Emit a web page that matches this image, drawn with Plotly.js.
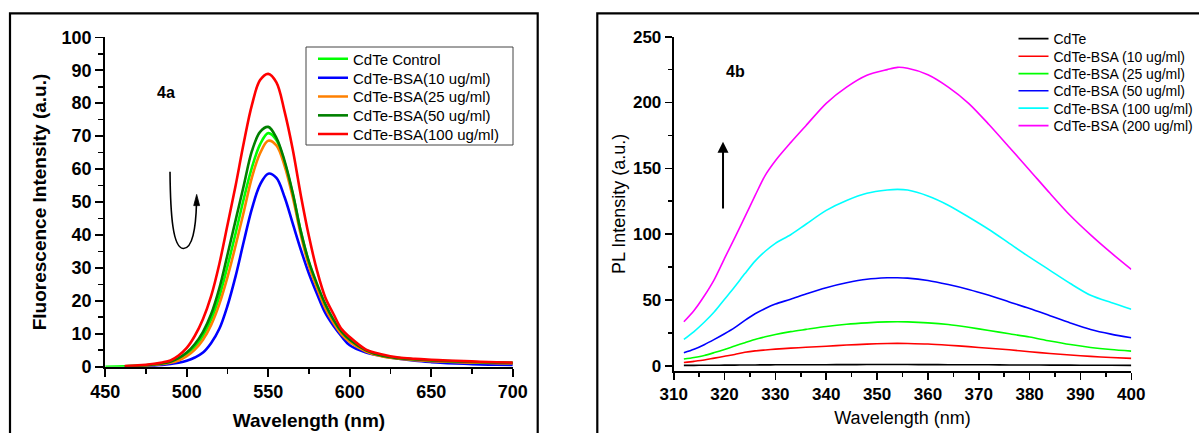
<!DOCTYPE html>
<html>
<head>
<meta charset="utf-8">
<script src="https://cdn.plot.ly/plotly-3.0.1.min.js"></script>
<style>html,body{margin:0;padding:0;background:#fff;}#chart{width:1199px;height:433px;}</style>
</head>
<body>
<div id="chart"></div>
<script>
// ---------- Panel 4a data ----------
const wavelengthA = [450, 462, 470, 475, 480, 485, 490, 495, 500, 505, 510, 515, 520, 525, 530, 535, 540, 545, 550, 555, 560, 565, 570, 575, 580, 585, 590, 595, 600, 610, 620, 630, 640, 650, 660, 670, 680, 690, 700];
const cdteControl = [0, 0.1, 0.25, 0.4, 0.6, 0.9, 1.3, 2.2, 3.7, 6.0, 9.4, 14.3, 21.3, 30.5, 40.5, 51, 60.5, 67.5, 70.9, 68.8, 62, 52.5, 41, 31.5, 24.5, 18.5, 13.8, 10.2, 7.8, 4.8, 3.3, 2.6, 2.1, 1.8, 1.6, 1.4, 1.3, 1.2, 1.1];
const bsa10A = [null, 0.05, 0.1, 0.2, 0.3, 0.5, 0.8, 1.2, 1.8, 2.8, 4.3, 7.2, 11.5, 18.5, 27.5, 38, 48, 55.3, 58.6, 57.3, 51.5, 43.5, 35.5, 28.2, 22, 16.3, 12.4, 9.2, 6.5, 4.3, 3.2, 2.4, 1.8, 1.4, 1.1, 0.9, 0.7, 0.6, 0.5];
const bsa25A = [null, 0.1, 0.2, 0.3, 0.5, 0.8, 1.2, 1.9, 3.2, 5.2, 8.2, 12.7, 19, 27.2, 36.8, 47, 57.5, 64.8, 68.6, 67.2, 61, 51.5, 40, 30.5, 23.8, 17.8, 13.3, 9.8, 7.5, 4.6, 3.1, 2.4, 2.0, 1.7, 1.5, 1.3, 1.2, 1.1, 1.0];
const bsa50A = [null, 0.15, 0.3, 0.45, 0.7, 1.0, 1.5, 2.6, 4.3, 6.9, 10.6, 16, 23.8, 34, 44.5, 55, 65.5, 71.3, 72.8, 69.5, 62.5, 52.8, 41, 31.8, 25, 19, 14.3, 10.6, 8.2, 5.0, 3.3, 2.6, 2.2, 1.9, 1.7, 1.5, 1.35, 1.25, 1.15];
const bsa100A = [null, 0.2, 0.4, 0.6, 0.9, 1.3, 1.9, 3.4, 5.7, 9.4, 14.5, 21.5, 31.2, 43, 55, 68, 79.5, 87, 88.9, 86.3, 77.5, 66, 52, 39.5, 29, 21, 16, 11.4, 9.0, 5.2, 3.7, 2.8, 2.4, 2.1, 1.9, 1.7, 1.5, 1.35, 1.25];
const namesA = ['CdTe Control', 'CdTe-BSA(10 ug/ml)', 'CdTe-BSA(25 ug/ml)', 'CdTe-BSA(50 ug/ml)', 'CdTe-BSA(100 ug/ml)'];

// ---------- Panel 4b data ----------
const wavelengthB = [312, 314, 316, 318, 320, 322, 324, 326, 328, 330, 333, 336, 340, 344, 348, 352, 354, 356, 360, 364, 368, 372, 376, 380, 384, 388, 392, 396, 400];
const cdteB = [0.3, 0.3, 0.35, 0.4, 0.45, 0.5, 0.55, 0.6, 0.65, 0.7, 0.7, 0.75, 0.8, 0.85, 0.9, 0.9, 0.9, 0.9, 0.85, 0.8, 0.75, 0.7, 0.6, 0.55, 0.5, 0.45, 0.4, 0.35, 0.3];
const bsa10B = [2.5, 3.3, 4.3, 5.8, 7.2, 8.6, 10.2, 11.3, 12, 12.6, 13.4, 14, 14.8, 15.7, 16.4, 16.9, 17, 16.9, 16.5, 15.6, 14.5, 13.3, 12.1, 10.6, 9.3, 8.1, 7.1, 6.3, 5.6];
const bsa25B = [5.1, 6.3, 7.8, 10, 12.4, 15, 17.5, 20, 22, 23.8, 25.9, 27.6, 29.8, 31.5, 32.6, 33.3, 33.4, 33.3, 32.6, 31.3, 29.2, 26.8, 24.3, 21.8, 18.8, 16.1, 13.9, 12.3, 11.1];
const bsa50B = [9.9, 12.5, 16, 20, 24.3, 29, 34.5, 39.5, 43.5, 46.9, 50.5, 54.5, 59.3, 63, 65.7, 66.8, 66.9, 66.6, 64.8, 61.7, 58, 53.5, 48.5, 43.5, 38, 32.5, 27.5, 24, 21.3];
const bsa100B = [20, 26, 33, 41, 50.5, 60, 70, 79.5, 87, 93, 99.5, 107.5, 118, 125.5, 131, 133.5, 134, 133.5, 129, 122, 113, 103.5, 93, 82.5, 72.5, 62.5, 53.5, 48, 43];
const bsa200B = [33.4, 42, 53, 65.7, 81.6, 97.1, 113.1, 129.2, 144.7, 155.8, 169.5, 182.4, 199.4, 211.7, 220.7, 225, 226.7, 226, 221.1, 211.7, 199.4, 183.3, 166, 148.6, 131, 114.1, 99.4, 85.9, 73.2];
const namesB = ['CdTe', 'CdTe-BSA (10 ug/ml)', 'CdTe-BSA (25 ug/ml)', 'CdTe-BSA (50 ug/ml)', 'CdTe-BSA (100 ug/ml)', 'CdTe-BSA (200 ug/ml)'];

// ---------- Styling ----------
const FONT = 'Liberation Sans, Arial, Helvetica, sans-serif';
const colorsA = ['#00ff00', '#0000ff', '#ff8000', '#008000', '#ff0000'];
const colorsB = ['#000000', '#ff0000', '#00ff00', '#0000ff', '#00ffff', '#ff00ff'];
const W = 1199, H = 433;
const px = v => v / W, py = v => 1 - v / H;

const seriesA = [cdteControl, bsa10A, bsa25A, bsa50A, bsa100A];
const seriesB = [cdteB, bsa10B, bsa25B, bsa50B, bsa100B, bsa200B];

// legend row centres (pixels) for each panel
const legendRowsA = [59, 78, 96.7, 115.6, 134.3];
const legendRowsB = [39, 56.6, 74, 91.2, 108.5, 126];

const traces = [];
const layoutLegends = {};
let legendCount = 0;
function nextLegendKey() {
  legendCount += 1;
  return legendCount === 1 ? 'legend' : 'legend' + legendCount;
}
seriesA.forEach((ys, i) => {
  const key = nextLegendKey();
  layoutLegends[key] = {
    x: px(313), xanchor: 'left', y: py(legendRowsA[i]), yanchor: 'middle',
    bgcolor: 'rgba(0,0,0,0)', borderwidth: 0,
    font: {family: FONT, size: 15, color: '#000'}
  };
  traces.push({
    type: 'scatter', mode: 'lines', x: wavelengthA, y: ys, name: namesA[i],
    xaxis: 'x', yaxis: 'y', legend: key, connectgaps: false,
    line: {color: colorsA[i], width: 2.6, shape: 'spline', smoothing: 1}
  });
});
seriesB.forEach((ys, i) => {
  const key = nextLegendKey();
  layoutLegends[key] = {
    x: px(1013.5), xanchor: 'left', y: py(legendRowsB[i]), yanchor: 'middle',
    bgcolor: 'rgba(0,0,0,0)', borderwidth: 0,
    font: {family: FONT, size: 14, color: '#000'}
  };
  traces.push({
    type: 'scatter', mode: 'lines', x: wavelengthB, y: ys, name: namesB[i],
    xaxis: 'x2', yaxis: 'y2', legend: key,
    line: {color: colorsB[i], width: 1.6, shape: 'spline', smoothing: 0.8}
  });
});

const axisCommon = {
  showgrid: false, zeroline: false, showline: true, linecolor: '#000', mirror: false,
  ticks: 'outside', tickcolor: '#000', fixedrange: true
};

const layout = Object.assign({
  width: W, height: H,
  margin: {l: 0, r: 0, t: 0, b: 0},
  paper_bgcolor: '#fff', plot_bgcolor: 'rgba(0,0,0,0)',
  font: {family: FONT, color: '#000'},
  xaxis: Object.assign({}, axisCommon, {
    domain: [px(105.2), px(512.8)], range: [450, 700], anchor: 'y',
    linewidth: 2, ticklen: 8, tickwidth: 1.6, tick0: 450, dtick: 50,
    minor: {ticks: 'outside', ticklen: 5, tickwidth: 1.6, tickcolor: '#000', dtick: 25, tick0: 450, showgrid: false},
    tickfont: {family: FONT, size: 18, weight: 'bold', color: '#000'},
    title: {text: 'Wavelength (nm)', standoff: 12, font: {family: FONT, size: 19, weight: 'bold', color: '#000'}}
  }),
  yaxis: Object.assign({}, axisCommon, {
    domain: [py(366.7), py(37.3)], range: [0, 100], anchor: 'x',
    linewidth: 2, ticklen: 8, tickwidth: 1.6, tick0: 0, dtick: 10,
    minor: {ticks: 'outside', ticklen: 5, tickwidth: 1.6, tickcolor: '#000', dtick: 5, tick0: 0, showgrid: false},
    tickfont: {family: FONT, size: 18, weight: 'bold', color: '#000'},
    title: {text: 'Fluorescence Intensity (a.u.)', standoff: 10, font: {family: FONT, size: 19, weight: 'bold', color: '#000'}}
  }),
  xaxis2: Object.assign({}, axisCommon, {
    domain: [px(673.7), px(1131.3)], range: [310, 400], anchor: 'y2',
    linewidth: 2, ticklen: 7, tickwidth: 1.6, tick0: 310, dtick: 10,
    minor: {ticks: 'outside', ticklen: 4, tickwidth: 1.6, tickcolor: '#000', dtick: 5, tick0: 310, showgrid: false},
    tickfont: {family: FONT, size: 17, weight: 'bold', color: '#000'},
    title: {text: 'Wavelength (nm)', standoff: 8, font: {family: FONT, size: 18, color: '#000'}}
  }),
  yaxis2: Object.assign({}, axisCommon, {
    domain: [py(371), py(36.7)], range: [-4, 250], anchor: 'x2',
    linewidth: 2, ticklen: 7, tickwidth: 1.6, tick0: 0, dtick: 50,
    minor: {ticks: 'outside', ticklen: 4, tickwidth: 1.6, tickcolor: '#000', dtick: 25, tick0: 0, showgrid: false},
    tickfont: {family: FONT, size: 17, weight: 'bold', color: '#000'},
    title: {text: 'PL Intensity (a.u.)', standoff: 3, font: {family: FONT, size: 18, color: '#000'}}
  }),
  showlegend: true,
  shapes: [
    // panel frames
    {type: 'rect', xref: 'paper', yref: 'paper', x0: px(10), x1: px(537.7), y0: -0.05, y1: py(13.3),
     line: {color: '#000', width: 2.2}, fillcolor: 'rgba(0,0,0,0)', layer: 'below'},
    {type: 'rect', xref: 'paper', yref: 'paper', x0: px(597.3), x1: 1.05, y0: -0.05, y1: py(13.3),
     line: {color: '#000', width: 2.2}, fillcolor: 'rgba(0,0,0,0)', layer: 'below'},
    // legend box (panel a)
    {type: 'rect', xref: 'paper', yref: 'paper', x0: px(306), x1: px(513), y0: py(145), y1: py(47),
     line: {color: '#444', width: 1}, fillcolor: 'rgba(0,0,0,0)'},
    // curved arrow (panel a)
    {type: 'path', xref: 'x', yref: 'y',
     path: 'M 489.75,59.2 C 490.0,46 491.5,36 497.9,35.9 C 503.5,35.8 505.6,42 506.0,49.6',
     line: {color: '#000', width: 1.6}},
    {type: 'path', xref: 'x', yref: 'y',
     path: 'M 506.1,52.3 L 504.3,48.9 L 507.9,48.9 Z',
     line: {color: '#000', width: 0.8}, fillcolor: '#000'}
  ],
  annotations: [
    {xref: 'paper', yref: 'paper', x: px(166), y: py(92), xanchor: 'center', yanchor: 'middle', text: '4a', showarrow: false,
     font: {family: FONT, size: 16, weight: 'bold', color: '#000'}},
    {xref: 'paper', yref: 'paper', x: px(735.6), y: py(71.7), xanchor: 'center', yanchor: 'middle', text: '4b', showarrow: false,
     font: {family: FONT, size: 16, weight: 'bold', color: '#000'}},
    {xref: 'x2', yref: 'y2', x: 319.7, y: 170.2, axref: 'x2', ayref: 'y2', ax: 319.7, ay: 118.3,
     text: '', showarrow: true, arrowhead: 2, arrowsize: 1.1, arrowwidth: 2, arrowcolor: '#000'}
  ]
}, layoutLegends);

Plotly.newPlot('chart', traces, layout, {displayModeBar: false, staticPlot: true});
</script>
</body>
</html>
